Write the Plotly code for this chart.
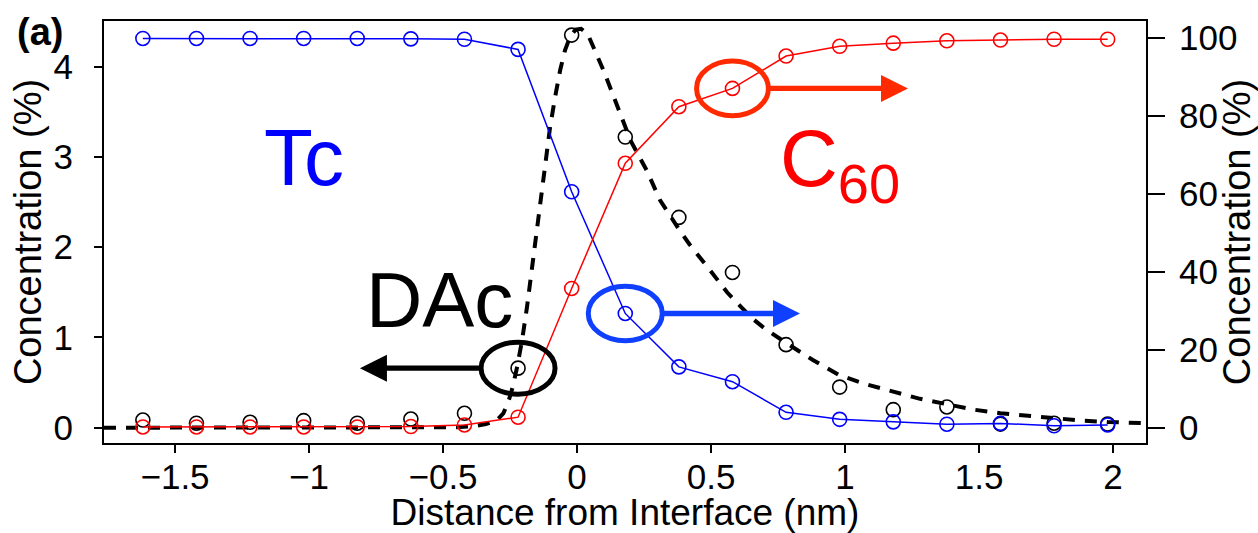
import plotly.graph_objects as go

# Depth positions of the measured slices (nm from the Tc/C60 interface)
x_nm = [-1.62, -1.42, -1.22, -1.02, -0.82, -0.62, -0.42, -0.22, -0.02,
        0.18, 0.38, 0.58, 0.78, 0.98, 1.18, 1.38, 1.58, 1.78, 1.98]

# Tetracene and C60 fractions (right axis, %)
tc_pct = [99.8, 99.8, 99.8, 99.8, 99.8, 99.7, 99.6, 97.0, 60.5,
          29.3, 15.6, 11.8, 3.95, 2.15, 1.5, 0.9, 1.1, 0.5, 0.7]
c60_pct = [0.2, 0.2, 0.2, 0.2, 0.2, 0.3, 0.7, 2.7, 35.7,
           67.8, 82.3, 87.0, 95.3, 97.8, 98.6, 99.2, 99.4, 99.6, 99.6]

# DAc fraction (left axis, %)
dac_pct = [0.085, 0.05, 0.06, 0.078, 0.05, 0.096, 0.16, 0.66, 4.35,
           3.22, 2.33, 1.72, 0.92, 0.45, 0.2, 0.23, 0.04, 0.05, 0.04]

# Fitted DAc profile (dashed)
fit_x = [-1.765, -1.0, -0.6, -0.45, -0.38, -0.34, -0.30, -0.275, -0.257, -0.24,
         -0.223, -0.205, -0.187, -0.164, -0.138, -0.119, -0.101, -0.082, -0.063,
         -0.045, -0.025, -0.005, 0.015, 0.04, 0.07, 0.10, 0.13, 0.165, 0.20, 0.26,
         0.31, 0.38, 0.42, 0.50, 0.56, 0.65, 0.70, 0.78, 0.88, 0.98, 1.08, 1.18,
         1.28, 1.38, 1.48, 1.58, 1.68, 1.78, 1.88, 1.98, 2.123]
fit_y = [0.0, 0.0, 0.0, 0.005, 0.02, 0.04, 0.08, 0.16, 0.28, 0.45,
         0.68, 0.97, 1.33, 1.88, 2.49, 2.93, 3.32, 3.66, 3.96,
         4.18, 4.34, 4.41, 4.42, 4.36, 4.16, 3.95, 3.72, 3.46, 3.18, 2.85,
         2.52, 2.2, 2.03, 1.73, 1.50, 1.22, 1.10, 0.94, 0.75, 0.58, 0.48, 0.40,
         0.32, 0.26, 0.2, 0.16, 0.13, 0.10, 0.08, 0.063, 0.05]

x_ticks = [-1.5, -1, -0.5, 0, 0.5, 1, 1.5, 2]
left_ticks = [0, 1, 2, 3, 4]
right_ticks = [0, 20, 40, 60, 80, 100]

FONT = "Liberation Sans, Arial, Helvetica, sans-serif"
BLUE = "#0000FF"
RED = "#FF0000"
ACC_BLUE = "#1040FF"
ACC_RED = "#FF2A00"

fig = go.Figure()

fig.add_trace(go.Scatter(
    x=fit_x, y=fit_y, mode="lines", yaxis="y",
    line=dict(color="black", width=4, dash="12px,10px"), showlegend=False))
fig.add_trace(go.Scatter(
    x=x_nm, y=dac_pct, mode="markers", yaxis="y",
    marker=dict(symbol="circle-open", size=14, color="black", line=dict(width=1.6)),
    showlegend=False))
fig.add_trace(go.Scatter(
    x=x_nm, y=tc_pct, mode="lines+markers", yaxis="y2",
    line=dict(color=BLUE, width=1.5),
    marker=dict(symbol="circle-open", size=14, color=BLUE, line=dict(width=1.6)),
    showlegend=False))
fig.add_trace(go.Scatter(
    x=x_nm, y=c60_pct, mode="lines+markers", yaxis="y2",
    line=dict(color=RED, width=1.5),
    marker=dict(symbol="circle-open", size=14, color=RED, line=dict(width=1.6)),
    showlegend=False))

# Ellipses marking which axis each series belongs to
def ellipse(xc, yc, hw, hh, yref, color):
    return dict(type="circle", xref="x", yref=yref,
                x0=xc - hw, x1=xc + hw, y0=yc - hh, y1=yc + hh,
                line=dict(color=color, width=5), layer="above")

i_dac, i_tc, i_c60 = 7, 9, 11
shapes = [
    ellipse(x_nm[i_dac], dac_pct[i_dac], 0.138, 0.288, "y", "black"),
    ellipse(x_nm[i_tc], tc_pct[i_tc], 0.138, 7.0, "y2", ACC_BLUE),
    ellipse(x_nm[i_c60], c60_pct[i_c60], 0.134, 7.0, "y2", ACC_RED),
]

def arrow(x_tail, x_tip, yv, yref, color):
    return dict(x=x_tip, y=yv, ax=x_tail, ay=yv, xref="x", yref=yref,
                axref="x", ayref=yref, text="", showarrow=True,
                arrowhead=2, arrowsize=1, arrowwidth=5.4,
                arrowcolor=color, standoff=0, startstandoff=0)

annotations = [
    arrow(x_nm[i_dac] - 0.138, -0.81, dac_pct[i_dac], "y", "black"),
    arrow(x_nm[i_tc] + 0.138, 0.832, tc_pct[i_tc], "y2", ACC_BLUE),
    arrow(x_nm[i_c60] + 0.134, 1.235, c60_pct[i_c60], "y2", ACC_RED),
    dict(x=-1.02, y=2.99, xref="x", yref="y", text="Tc", showarrow=False,
         font=dict(family=FONT, size=80, color=BLUE)),
    dict(x=0.98, y=2.92, xref="x", yref="y", text="C<sub>60</sub>", showarrow=False,
         font=dict(family=FONT, size=80, color=RED)),
    dict(x=-0.515, y=1.42, xref="x", yref="y", text="DAc", showarrow=False,
         font=dict(family=FONT, size=78, color="black")),
    dict(x=-0.0854, y=0.974, xref="paper", yref="paper", text="<b>(a)</b>",
         showarrow=False, xanchor="left", yanchor="middle",
         font=dict(family=FONT, size=38, color="black")),
]

axis_common = dict(showgrid=False, zeroline=False, showline=True, linewidth=2,
                   linecolor="black", ticks="outside", tickwidth=2, tickcolor="black",
                   automargin=False,
                   tickfont=dict(family=FONT, size=35, color="black"))

fig.update_layout(
    width=1258, height=533,
    margin=dict(l=104, r=112, t=21, b=90),
    paper_bgcolor="white", plot_bgcolor="white",
    font=dict(family=FONT, color="black"),
    xaxis=dict(range=[-1.765, 2.123], tickvals=x_ticks, ticklen=8, mirror=True,
               ticklabelstandoff=-6,
               title=dict(text="Distance from Interface (nm)", standoff=2,
                          font=dict(family=FONT, size=37)),
               **axis_common),
    yaxis=dict(range=[-0.1695, 4.506], tickvals=left_ticks, ticklen=8,
               ticklabelstandoff=14,
               title=dict(text="Concentration (%)", standoff=0,
                          font=dict(family=FONT, size=38)),
               **axis_common),
    yaxis2=dict(range=[-3.92, 104.28], tickvals=right_ticks, ticklen=17,
                ticklabelstandoff=7,
                overlaying="y", side="right",
                title=dict(text="Concentration (%)", standoff=0,
                           font=dict(family=FONT, size=38)),
                **axis_common),
    shapes=shapes,
    annotations=annotations,
)

fig.write_html("out.html")
